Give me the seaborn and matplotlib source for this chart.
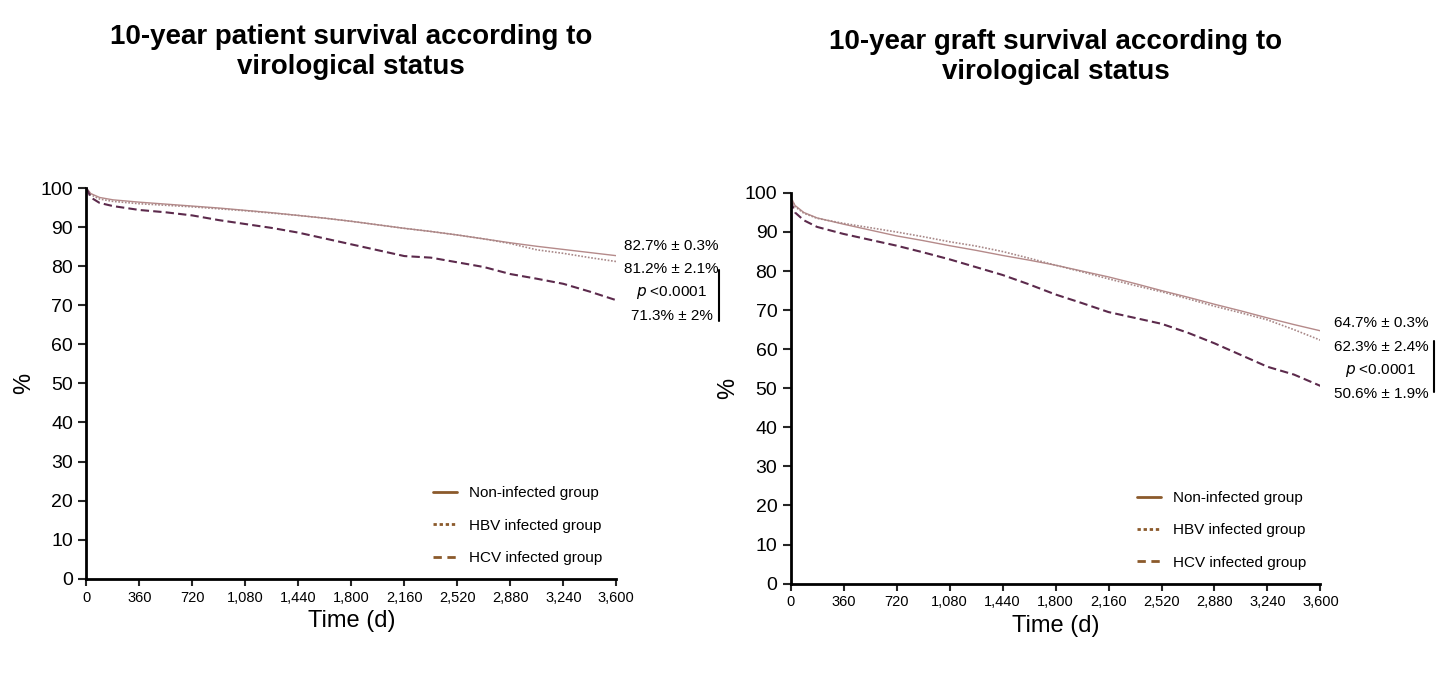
import matplotlib
matplotlib.use("Agg")
import matplotlib.pyplot as plt
import seaborn as sns

sns.set_style("white")
plt.rcParams['font.family'] = ['Liberation Sans', 'DejaVu Sans']
plt.rcParams['text.color'] = 'black'

times = [0, 30, 90, 180, 360, 540, 720, 900, 1080, 1260, 1440, 1620, 1800, 1980, 2160, 2340, 2520, 2700, 2880, 3060, 3240, 3420, 3600]
pat_non = [100, 98.6, 97.6, 97.0, 96.4, 95.9, 95.4, 94.9, 94.3, 93.7, 93.0, 92.3, 91.5, 90.6, 89.7, 88.9, 88.0, 87.0, 86.0, 85.1, 84.3, 83.5, 82.7]
pat_hbv = [100, 98.3, 97.2, 96.6, 96.0, 95.6, 95.2, 94.7, 94.2, 93.6, 93.0, 92.3, 91.5, 90.6, 89.7, 88.9, 88.0, 87.0, 85.8, 84.2, 83.3, 82.2, 81.2]
pat_hcv = [100, 97.6, 96.2, 95.4, 94.4, 93.8, 93.0, 91.8, 90.8, 89.8, 88.6, 87.1, 85.6, 84.1, 82.6, 82.2, 81.0, 79.8, 78.0, 76.8, 75.5, 73.5, 71.3]
gr_non = [99, 96.8, 95.0, 93.6, 92.0, 90.5, 89.0, 87.8, 86.5, 85.3, 84.0, 82.8, 81.5, 80.0, 78.5, 76.8, 75.0, 73.3, 71.5, 69.8, 68.0, 66.3, 64.7]
gr_hbv = [99, 96.5, 94.8, 93.5, 92.2, 91.1, 90.0, 88.8, 87.5, 86.4, 85.0, 83.3, 81.5, 79.8, 78.0, 76.3, 74.7, 72.9, 71.0, 69.3, 67.5, 65.0, 62.3]
gr_hcv = [98, 95.0, 93.0, 91.3, 89.5, 88.0, 86.5, 84.8, 83.0, 81.0, 79.0, 76.6, 74.0, 71.8, 69.5, 68.0, 66.5, 64.2, 61.5, 58.5, 55.5, 53.5, 50.6]

labels = ["Non-infected group", "HBV infected group", "HCV infected group"]
ticks = [0, 360, 720, 1080, 1440, 1800, 2160, 2520, 2880, 3240, 3600]
ticklabels = ["0", "360", "720", "1,080", "1,440", "1,800", "2,160", "2,520", "2,880", "3,240", "3,600"]

fig = plt.figure(figsize=(14.4, 6.89), dpi=100)
ax1 = fig.add_axes([0.060, 0.160, 0.368, 0.567])
ax2 = fig.add_axes([0.549, 0.153, 0.368, 0.567])

styles = [dict(color="#b58a8a", lw=1.0, ls="-"),
          dict(color="#a88888", lw=1.2, ls=(0, (1, 1))),
          dict(color="#5c2a4c", lw=1.5, ls=(0, (4, 2)))]
leg_styles = [dict(color="#8b5a2b", lw=2, ls="-"),
              dict(color="#8b5a2b", lw=2, ls=(0, (1.2, 1))),
              dict(color="#8b5a2b", lw=2, ls=(0, (3, 2)))]

def panel(ax, series, title, ann, ylo_ann, top_y, tx, bx):
    for s, st in zip(series, styles):
        sns.lineplot(x=times, y=s, ax=ax, legend=False, **st)
    for lab, st in zip(labels, leg_styles):
        ax.plot([], [], label=lab, **st)
    ax.set_xlim(0, 3600)
    ax.set_ylim(0, 100)
    ax.set_xticks(ticks)
    ax.set_xticklabels(ticklabels, fontsize=10.5)
    ax.set_yticks(range(0, 101, 10))
    ax.tick_params(axis='y', labelsize=14, length=6, width=1.5, direction='out', left=True, labelcolor='black')
    ax.tick_params(axis='x', length=5, width=1.5, direction='out', bottom=True, labelcolor='black')
    for sp in ["top", "right"]:
        ax.spines[sp].set_visible(False)
    for sp in ["left", "bottom"]:
        ax.spines[sp].set_linewidth(2)
        ax.spines[sp].set_color("black")
    ax.set_xlabel("Time (d)", fontsize=17, color="black")
    ax.set_ylabel("%", fontsize=17, color="black")
    ax.set_title(title, fontsize=20, fontweight="bold", pad=82, color="black")
    ax.legend(loc="lower right", frameon=False, fontsize=11, handlelength=1.6,
              labelspacing=1.2, bbox_to_anchor=(1.0, 0.0))
    for i, t in enumerate(ann):
        ax.text(tx, top_y - i * 6.0, t, fontsize=11, ha="center", va="center", clip_on=False)
    ax.plot([bx] * 2, [ylo_ann, ylo_ann + 13], color="black", lw=1.5, clip_on=False)

panel(ax1, [pat_non, pat_hbv, pat_hcv], "10-year patient survival according to\nvirological status",
      ["82.7% ± 0.3%", "81.2% ± 2.1%", "$p$ <0.0001", "71.3% ± 2%"], 66, 85.3, 3975, 4300)
panel(ax2, [gr_non, gr_hbv, gr_hcv], "10-year graft survival according to\nvirological status",
      ["64.7% ± 0.3%", "62.3% ± 2.4%", "$p$ <0.0001", "50.6% ± 1.9%"], 49, 66.6, 4010, 4370)

fig.savefig("out.png", dpi=100)
